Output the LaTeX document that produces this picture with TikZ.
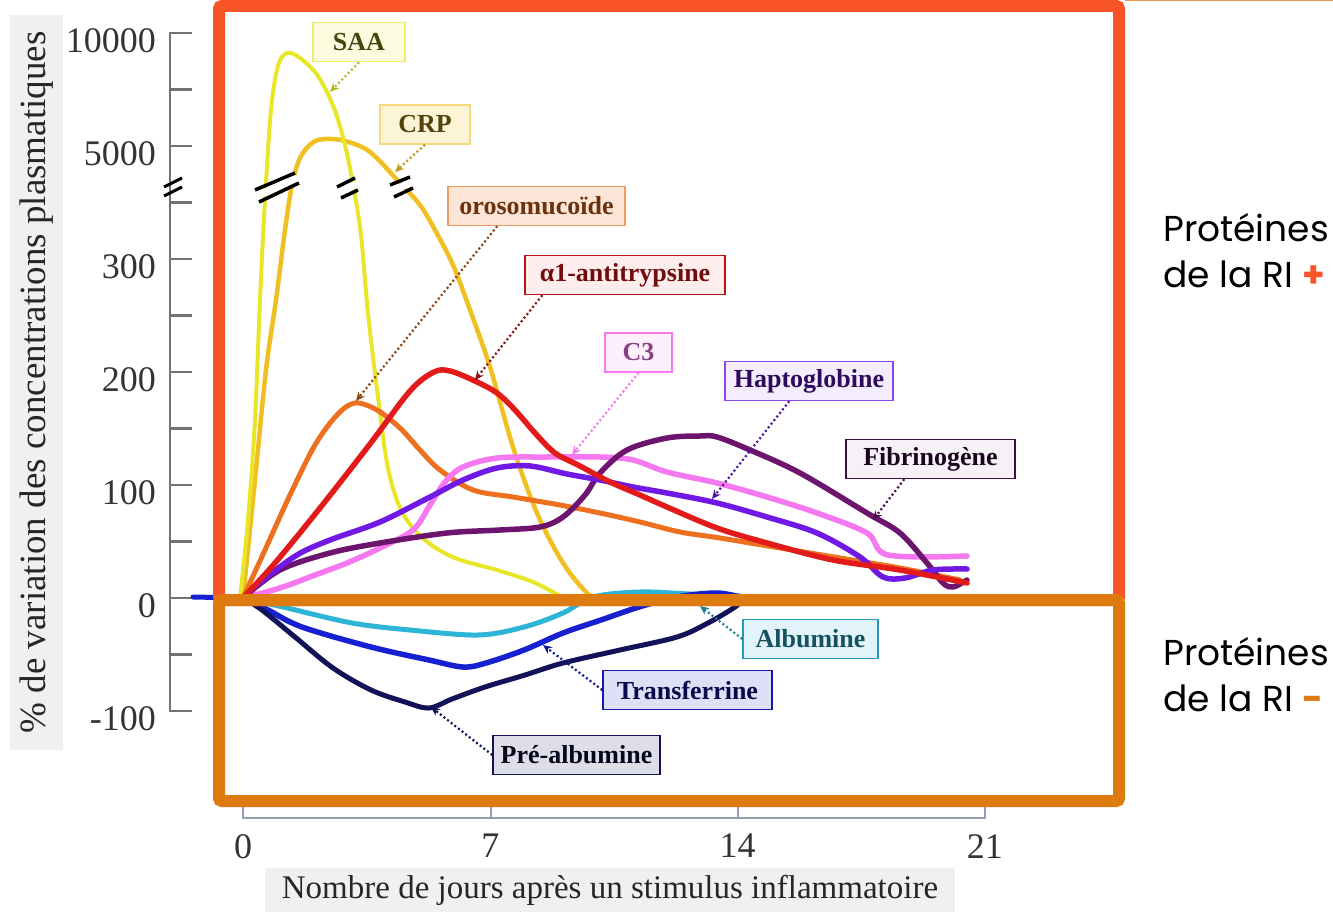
\documentclass[tikz,border=0pt]{standalone}
\usepackage{fontspec}
\setmainfont{Liberation Serif}
\newfontfamily\gothique{Poppins}
\usetikzlibrary{arrows.meta}

\definecolor{cadreplus}{RGB}{249,84,40}
\definecolor{cadremoins}{RGB}{221,123,16}
\definecolor{axegris}{RGB}{115,115,115}
\definecolor{axebleu}{RGB}{150,160,180}
\definecolor{fondgris}{RGB}{240,240,240}
\definecolor{cSAA}{RGB}{232,230,40}
\definecolor{cCRP}{RGB}{240,192,35}
\definecolor{cORO}{RGB}{236,112,30}
\definecolor{cAAT}{RGB}{226,26,26}
\definecolor{cCtrois}{RGB}{245,120,240}
\definecolor{cHAP}{RGB}{112,24,228}
\definecolor{cFIB}{RGB}{108,20,110}
\definecolor{cALB}{RGB}{45,180,215}
\definecolor{cTRF}{RGB}{22,32,208}
\definecolor{cPRE}{RGB}{18,18,88}

\tikzset{
  axe/.style={draw=axegris, line width=2.5pt},
  grad/.style={text=black!80, font=\fontsize{36}{38}\selectfont, inner sep=0pt},
  courbe/.style={line width=#1, line cap=round, line join=round},
  etiq/.style n args={3}{draw=#1, fill=#2, text=#3, line width=1.5pt, inner sep=0pt,
    minimum height=39pt, font=\bfseries\fontsize{26}{28}\selectfont},
  renvoi/.style={draw=#1, line width=2.2pt, dash pattern=on 2pt off 2.6pt,
    -{Stealth[length=9pt, width=8pt]}},
  coupure/.style={line width=3.5pt, black},
  legende/.style={font=\gothique\fontsize{36}{46}\selectfont, align=left, inner sep=0pt}
}

\begin{document}
\begin{tikzpicture}[x=1pt, y=-1pt]
  \useasboundingbox (0,0) rectangle (1333,912);

  % axe des ordonnees
  \node[fill=fondgris, rotate=90, minimum width=735pt, minimum height=53pt,
    font=\fontsize{37}{39}\selectfont, text=black!85] (titrey) at (36.5,382.5)
    {\% de variation des concentrations plasmatiques};
  \draw[axe] (192,33) -- (170,33) -- (170,711) -- (192,711);
  \foreach \i in {1,...,11}
    \draw[axe] (170,{33+56.5*\i}) -- ++(22,0);
  \foreach \v [count=\i from 0] in {10000,5000,300,200,100,0,-100}
    \node[grad, anchor=east] (gy\i) at (156,{41+113*\i}) {\v};
  \draw[coupure, line width=3pt] (164,187) -- (182,178) (164,196) -- (182,187);

  % axe des abscisses
  \draw[axe, draw=axebleu] (243,795) -- (243,818) -- (985,818) -- (985,795);
  \draw[axe, draw=axebleu] (491,818) -- ++(0,-23) (738,818) -- ++(0,-23);
  \foreach \j in {0,7,14,21}
    \node[grad, anchor=north] (gx\j) at ({243+35.33*\j},834) {\j};
  \node[fill=fondgris, minimum width=690pt, minimum height=44pt,
    font=\fontsize{33}{35}\selectfont, text=black!85] (titrex) at (610,890)
    {Nombre de jours après un stimulus inflammatoire};

  % courbes
  \draw[courbe=5pt, cTRF] (193,597) -- (243,598);
  \draw[courbe=4.5pt, cCRP] plot[smooth, tension=0.55] coordinates {(243,598) (255,480) (266,370)
    (276,300) (285,230) (292,185) (300,158) (312,143) (325,139) (345,141) (370,152) (400,183)
    (420,205) (435,230) (453,265) (470,310) (490,367) (513,447) (537,513) (563,563) (587,593) (600,598)};
  \draw[courbe=4pt, cSAA] plot[smooth, tension=0.55] coordinates {(240,598) (248,520) (255,420)
    (260,300) (265,200) (271,110) (278,66) (287,53) (300,58) (318,76) (334,108) (345,145)
    (354,190) (361,235) (368,313) (378,397) (388,468) (402,512) (425,540) (455,558) (497,570)
    (533,582) (562,597)};
  \draw[courbe=5pt, cORO] plot[smooth, tension=0.55] coordinates {(243,598) (265,550)
    (290,495) (315,445) (337,415) (355,403) (377,410) (400,428) (420,450) (440,470) (473,490)
    (513,497) (560,505) (600,513) (640,522) (680,532) (720,538) (780,548) (840,558) (900,568) (960,580)};
  \draw[courbe=5.5pt, cCtrois] plot[smooth, tension=0.55] coordinates {(243,598) (280,588) (315,575)
    (347,563) (380,548) (413,530) (430,505) (445,482) (463,467) (497,458) (547,457) (600,457)
    (633,460) (667,472) (717,483) (767,497) (817,513) (867,533) (888,555) (967,556)};
  \draw[courbe=5.5pt, cFIB] plot[smooth, tension=0.55] coordinates {(243,598) (280,570) (330,553)
    (380,543) (447,533) (500,530) (540,527) (563,517) (585,495) (600,473) (627,450) (667,438)
    (700,436) (717,437) (750,450) (800,473) (867,513) (900,533) (927,563) (943,583) (953,587) (967,580)};
  \draw[courbe=5.5pt, cHAP] plot[smooth, tension=0.55] coordinates {(243,598) (263,580) (297,555)
    (330,540) (380,522) (430,497) (463,480) (497,468) (530,466) (567,474) (600,480) (633,487)
    (667,493) (717,503) (767,517) (817,533) (860,557) (883,577) (905,578) (933,570) (967,569)};
  \draw[courbe=5.5pt, cAAT] plot[smooth, tension=0.55] coordinates {(243,598) (275,563)
    (320,508) (370,444) (410,391) (434,372) (450,371) (475,381) (497,393)
    (515,410) (535,433) (555,453) (580,466) (610,482) (640,495) (667,507) (717,528) (767,543)
    (833,560) (900,570) (967,583)};
  \draw[courbe=5pt, cALB] plot[smooth, tension=0.55] coordinates {(243,598) (283,607) (352,623)
    (410,630) (478,635) (524,627) (563,613) (593,597) (640,592) (690,594) (740,596)};
  \draw[courbe=5.5pt, cTRF] plot[smooth, tension=0.55] coordinates {(243,598) (268,610) (302,627)
    (371,647) (429,660) (463,667) (486,663) (524,650) (563,633) (601,620) (639,607) (677,597)
    (716,593) (740,597)};
  \draw[courbe=5pt, cPRE] plot[smooth, tension=0.55] coordinates {(243,598) (262,610) (295,637)
    (333,668) (371,690) (405,702) (429,708) (452,699) (485,687) (525,675) (563,663) (620,650)
    (677,637) (708,623) (735,607) (746,597)};

  % coupures d'echelle
  \draw[white, line width=7pt] (257,196) -- (297,178) (339,193) -- (357,184) (392,191) -- (412,182);
  \draw[coupure] (255,190) -- (295,173) (259,202) -- (299,183);
  \draw[coupure] (337,187) -- (355,178) (341,198) -- (358,190);
  \draw[coupure] (390,185) -- (410,177) (394,197) -- (413,188);

  % etiquettes
  \node[etiq={cSAA!70!white}{cSAA!15!white}{black!70!cSAA}, minimum width=92pt] (saa) at (359,42) {SAA};
  \node[etiq={cCRP!60!white}{cCRP!18!white}{black!65!cCRP}, minimum width=90pt] (crp) at (425,124.5) {CRP};
  \node[etiq={cORO!70!white}{cORO!18!white}{black!55!cORO}, minimum width=177pt] (oroso) at (536.5,206) {orosomucoïde};
  \node[etiq={cAAT!80!black}{cAAT!8!white}{black!50!cAAT}, minimum width=200pt] (aat) at (625,275) {α1-antitrypsine};
  \node[etiq={cCtrois}{cCtrois!12!white}{black!45!cCtrois}, minimum width=67pt] (ctrois) at (638.5,352.5) {C3};
  \node[etiq={cHAP!80!white}{cHAP!8!white}{black!60!cHAP}, minimum width=168pt] (hapto) at (809,381) {Haptoglobine};
  \node[etiq={cFIB!60!black}{cFIB!6!white}{black!75!cFIB}, minimum width=169pt] (fibri) at (930.5,459) {Fibrinogène};
  \node[etiq={cALB!85!black}{cALB!14!white}{black!55!cALB}, minimum width=135pt] (alb) at (810.5,639) {Albumine};
  \node[etiq={cTRF!80!black}{cTRF!14!white}{black!65!cTRF}, minimum width=169pt] (transf) at (687.5,690) {Transferrine};
  \node[etiq={cPRE}{cPRE!14!white}{black!70!cPRE}, minimum width=167pt] (prealb) at (576.5,755) {Pré-albumine};

  \coordinate (saa-pt) at (330,92);
  \coordinate (crp-pt) at (395,172);
  \coordinate (oroso-pt) at (356,401);
  \coordinate (aat-pt) at (475,380);
  \coordinate (ctrois-pt) at (572,455);
  \coordinate (hapto-pt) at (712,499);
  \coordinate (fibri-pt) at (873,520);
  \coordinate (alb-pt) at (700,606);
  \coordinate (transf-pt) at (543,645);
  \coordinate (prealb-pt) at (431,707);

  \draw[renvoi={cSAA!80!black}] (saa.south) -- (saa-pt);
  \draw[renvoi={cCRP!80!black}] (crp.south) -- (crp-pt);
  \draw[renvoi={cORO!60!black}] ([xshift=50pt]oroso.south west) -- (oroso-pt);
  \draw[renvoi={cAAT!60!black}] ([xshift=18pt]aat.south west) -- (aat-pt);
  \draw[renvoi={cCtrois}] (ctrois.south) -- (ctrois-pt);
  \draw[renvoi={cHAP!70!black}] ([xshift=65pt]hapto.south west) -- (hapto-pt);
  \draw[renvoi={cFIB!60!black}] ([xshift=59pt]fibri.south west) -- (fibri-pt);
  \draw[renvoi={cALB!70!black}] (alb.west) -- (alb-pt);
  \draw[renvoi={cTRF!70!black}] (transf.west) -- (transf-pt);
  \draw[renvoi={cPRE}] (prealb.west) -- (prealb-pt);

  % cadres
  \draw[cadremoins!75!white, line width=1.5pt] (1125,0.75) -- (1333,0.75);
  \draw[cadreplus, line width=12pt, rounded corners=3pt] (219,6) rectangle (1119,600);
  \draw[cadremoins, line width=12pt, rounded corners=3pt] (219,600) rectangle (1119,801);

  \node[legende, anchor=north west] (ri-plus) at (1163,213)
    {Protéines\\de la RI {\bfseries\color{cadreplus}+}};
  \node[legende, anchor=north west] (ri-moins) at (1163,637)
    {Protéines\\de la RI {\bfseries\color{cadremoins}-}};
\end{tikzpicture}
\end{document}
